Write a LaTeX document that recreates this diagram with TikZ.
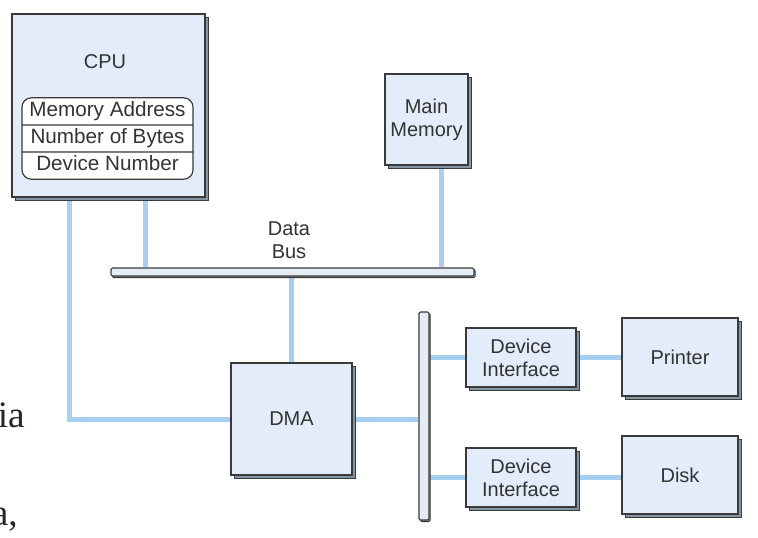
\documentclass[tikz,border=0pt]{standalone}
\usepackage{fontspec}
\setmainfont{Liberation Sans}
\newfontfamily\slidefont{Liberation Serif}
\usepackage{xcolor}
\usetikzlibrary{shapes.multipart}
\usetikzlibrary{shadows}
\usetikzlibrary{backgrounds}
\usetikzlibrary{positioning}
\definecolor{boxfill}{HTML}{E2EDF9}
\definecolor{barfill}{HTML}{E6ECF3}
\definecolor{rim}{HTML}{8593A3}
\definecolor{edge}{HTML}{3A3A3A}
\definecolor{wirecol}{HTML}{A6CFF0}
\definecolor{ink}{HTML}{333333}
\newcommand{\diafont}{\fontsize{15}{17.25}\selectfont}
\newcommand{\rowtxt}[1]{\vphantom{Ay}#1}

\tikzset{%
  unit/.style={draw=edge, fill=boxfill, line width=0.8pt, inner sep=0pt,
    text=ink, font=\diafont, align=center,
    general shadow={fill=rim, draw=edge, line width=0.6pt,
      shadow xshift=2.2pt, shadow yshift=-2.2pt}},
  bar/.style={draw=edge, fill=barfill, line width=0.8pt, inner sep=0pt,
    rounded corners=1pt,
    general shadow={fill=rim, draw=edge, line width=0.6pt,
      shadow xshift=1pt, shadow yshift=-1.2pt}},
  regs/.style={draw=edge, fill=white, line width=0.9pt, rounded corners=7pt,
    rectangle split, rectangle split parts=3, text=ink,
    font=\fontsize{15.5}{17}\selectfont, inner xsep=2pt, inner ysep=2.5pt},
  lbl/.style={text=ink, font=\diafont, align=center, inner sep=0pt},
  wire/.style={draw=wirecol, line width=3.75pt},
  frag/.style={text=black!85, font=\slidefont\fontsize{28}{30}\selectfont, inner sep=0pt}
}

\begin{document}
\begin{tikzpicture}[x=0.75pt, y=-0.75pt]
        \useasboundingbox (0,0) rectangle (758,537);%
        % units
        \node[unit, minimum width=144.75pt, minimum height=137.25pt] (cpu) at (108.5,105.5) {};%
        \node[lbl] (cputxt) at (105,62) {CPU};%
        \node[regs, minimum width=128.25pt] (reg) at (107.5,138.5)
          {\rowtxt{Memory Address} \nodepart{second}\rowtxt{Number of Bytes} \nodepart{third}\rowtxt{Device Number}};%
        \node[unit, minimum width=62.25pt, minimum height=68.25pt] (mem) at (426.5,119.5) {Main\\Memory};%
        \node[bar, minimum width=272.25pt, minimum height=6pt] (bus) at (292.5,272) {};%
        \node[lbl] (bustxt) at (289,240) {Data\\Bus};%
        \node[unit, minimum width=90.75pt, minimum height=84pt] (dma) at (291.5,419) {DMA};%
        \node[bar, minimum width=7.5pt, minimum height=156pt] (iobus) at (424,416) {};%
        \node[unit, minimum width=82.5pt, minimum height=44.25pt] (dev1) at (521,357.5) {Device\\Interface};%
        \node[unit, minimum width=87pt, minimum height=58.5pt] (prn) at (680,357) {Printer};%
        \node[unit, minimum width=82.5pt, minimum height=44.25pt] (dev2) at (521,477.5) {Device\\Interface};%
        \node[unit, minimum width=87pt, minimum height=58.5pt] (disk) at (680,475) {Disk};%
        % slide text cut off at the left
        \node[frag, anchor=base east] (frag1) at (25,427) {ia};%
        \node[frag, anchor=base east] (frag2) at (18,525) {a,};%
        % wires
        \begin{scope}[on background layer]
        \draw[wire] ([xshift=28.1pt]cpu.south) -- ([xshift=28.1pt]cpu.south |- bus.north); %
        \draw[wire] ([xshift=10.9pt]mem.south) -- ([xshift=10.9pt]mem.south |- bus.north); %
        \draw[wire] (dma.north |- bus.south) -- (dma.north); %
        \draw[wire] ([xshift=-29.6pt]cpu.south) |- (dma.west); %
        \draw[wire] (dma.east) -- (dma.east -| iobus.west); %
        \draw[wire] (dev1.west -| iobus.east) -- (dev1.west); %
        \draw[wire] (dev1.east) -- (prn.west |- dev1.east); %
        \draw[wire] (dev2.west -| iobus.east) -- (dev2.west); %
        \draw[wire] (dev2.east) -- (disk.west |- dev2.east); %
        \end{scope}
      \end{tikzpicture}
\end{document}
